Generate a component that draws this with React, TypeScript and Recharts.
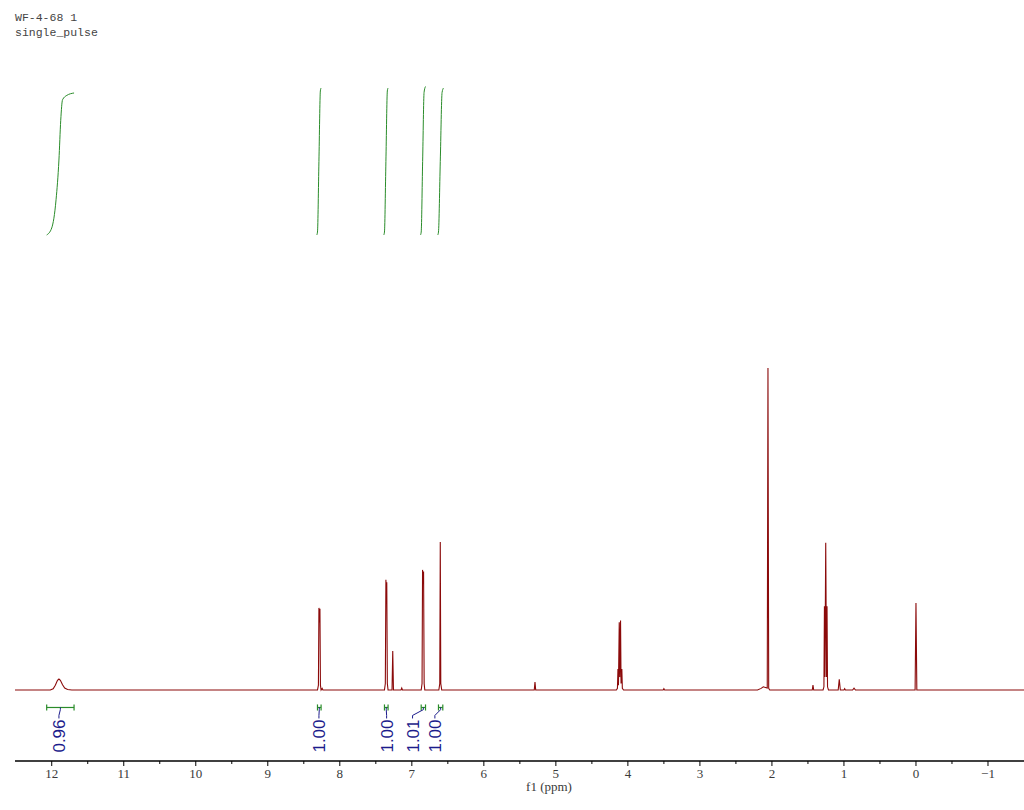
import React from 'react';
import {
  ComposedChart, Line, XAxis, YAxis, ReferenceLine, ReferenceDot,
} from 'recharts';

// spectrum points: [ppm, intensity], tallest peak = 100
const baselineEnds: [number, number][] = [[12.51, 0], [-1.5, 0]];
const peakCOOH: [number, number][] = [
  [12.02, 0], [11.98, 0.4], [11.95, 1.5], [11.92, 3.0], [11.9, 3.4], [11.88, 3.0],
  [11.85, 1.6], [11.82, 0.6], [11.78, 0.15], [11.72, 0],
];
const peak828: [number, number][] = [
  [8.31, 0], [8.297, 1.5], [8.29, 25.5], [8.283, 21], [8.276, 25.2], [8.269, 1.5],
  [8.26, 0], [8.245, 0.5], [8.235, 0],
];
const peak735: [number, number][] = [
  [7.38, 0], [7.368, 2], [7.36, 34.2], [7.354, 31], [7.348, 33.5], [7.34, 2], [7.33, 0],
];
const peak726: [number, number][] = [[7.275, 0], [7.265, 12.1], [7.255, 0], [7.15, 0], [7.14, 0.6], [7.13, 0]];
const peak684: [number, number][] = [
  [6.87, 0], [6.858, 2], [6.851, 37.3], [6.844, 33], [6.837, 36.8], [6.829, 2], [6.82, 0],
];
const peak660: [number, number][] = [[6.625, 0], [6.612, 2], [6.605, 46], [6.598, 2], [6.585, 0]];
const peak529: [number, number][] = [[5.3, 0], [5.29, 2.5], [5.28, 0]];
const peak411: [number, number][] = [
  [4.16, 0], [4.145, 0.5], [4.138, 6.5], [4.131, 1.5], [4.12, 21], [4.113, 4], [4.102, 21.6],
  [4.095, 2], [4.084, 6.5], [4.077, 0.5], [4.06, 0], [3.51, 0], [3.5, 0.4], [3.49, 0],
];
const peak205: [number, number][] = [
  [2.2, 0], [2.15, 0.5], [2.12, 1.0], [2.09, 0.8], [2.065, 0.6], [2.055, 100], [2.045, 0.5], [2.03, 0],
];
const peak126: [number, number][] = [
  [1.44, 0], [1.43, 1.5], [1.42, 0],
  [1.29, 0], [1.278, 1], [1.271, 26], [1.264, 4], [1.253, 45.7], [1.242, 4], [1.235, 26],
  [1.228, 1], [1.215, 0],
  [1.08, 0], [1.065, 3.3], [1.05, 0], [1.0, 0], [0.99, 0.4], [0.98, 0],
  [0.88, 0], [0.86, 0.6], [0.84, 0],
];
const peakTMS: [number, number][] = [[0.012, 0], [0.0, 27], [-0.012, 0]];

// integral curves: [ppm, normalised integral]
const intCOOH: [number, number][] = [
  [12.07, 0], [12.0, 0.048], [11.94, 0.24], [11.9, 0.51], [11.875, 0.78], [11.85, 0.92],
  [11.79, 0.95], [11.69, 0.966],
];
const int828: [number, number][] = [[8.32, 0], [8.31, 0.02], [8.29, 0.5], [8.27, 0.98], [8.26, 1.0]];
const int735: [number, number][] = [[7.39, 0], [7.38, 0.02], [7.36, 0.5], [7.34, 0.98], [7.33, 1.0]];
const int684: [number, number][] = [[6.88, 0], [6.87, 0.02], [6.85, 0.5], [6.83, 0.97], [6.81, 1.01]];
const int660: [number, number][] = [[6.64, 0], [6.63, 0.02], [6.605, 0.5], [6.58, 0.97], [6.56, 1.0]];

// integral regions and labels
const integralFrom = [12.07, 8.31, 7.38, 6.87, 6.63];
const integralTo = [11.69, 8.26, 7.33, 6.81, 6.57];
const integralValues = ['0.96', '1.00', '1.00', '1.01', '1.00'];
const integralLabelAt = [11.9, 8.29, 7.35, 6.99, 6.68];

const majorTicks = [12, 11, 10, 9, 8, 7, 6, 5, 4, 3, 2, 1, 0, -1];
const allTicks = [12, 11.5, 11, 10.5, 10, 9.5, 9, 8.5, 8, 7.5, 7, 6.5, 6, 5.5, 5, 4.5, 4, 3.5, 3, 2.5, 2, 1.5, 1, 0.5, 0, -0.5, -1];

const toRows = (pts: [number, number][], key: string) =>
  pts.map(([ppm, v]) => ({ ppm, [key]: v }));

const spectrum = toRows(
  [...baselineEnds, ...peakCOOH, ...peak828, ...peak735, ...peak726, ...peak684, ...peak660,
    ...peak529, ...peak411, ...peak205, ...peak126, ...peakTMS].sort((a, b) => b[0] - a[0]),
  'y',
);
const integralCurves = [intCOOH, int828, int735, int684, int660].map((c) => toRows(c, 'i'));

const RED = '#8b0a0a';
const GREEN = '#2a8c2a';
const BLUE = '#1c1c8c';

const yBracket = -5.43;
const yBend1 = -6.1;
const yBend2 = -7.9;
const yLabelTop = -8.84;

const Tick = (props: any) => {
  const { x, y, payload } = props;
  const major = majorTicks.includes(payload.value);
  return (
    <g>
      <line x1={x} x2={x} y1={y} y2={y + (major ? 5 : 3)} stroke="#000" strokeWidth={1} />
      {major && (
        <text x={x} y={y + 17} textAnchor="middle" fontFamily="'Liberation Serif', serif"
          fontSize={13} fill="#3a3a3a">
          {payload.value < 0 ? `\u2212${Math.abs(payload.value)}` : payload.value}
        </text>
      )}
    </g>
  );
};

export default function App() {
  return (
    <div style={{ position: 'absolute', left: 0, top: 0, width: 1024, height: 810, background: '#fff' }}>
      <div style={{
        position: 'absolute', left: 15, top: 10, fontFamily: "'Liberation Mono', monospace",
        fontSize: 11.5, lineHeight: '15px', color: '#444', whiteSpace: 'pre',
      }}>
        <div>WF-4-68 1</div>
        <div>single_pulse</div>
      </div>
      <ComposedChart width={1024} height={810} margin={{ top: 46, right: 0, left: 15, bottom: 0 }}>
        <XAxis
          type="number" dataKey="ppm" domain={[-1.5, 12.51]} reversed allowDataOverflow
          ticks={allTicks} interval={0} tick={<Tick />} tickLine={false} tickSize={0} tickMargin={0}
          axisLine={{ stroke: '#000', strokeWidth: 1.3 }} height={49}
          label={{
            content: () => (
              <text x={549} y={791} textAnchor="middle" fontFamily="'Liberation Serif', serif"
                fontSize={13} fill="#3a3a3a">f1 (ppm)</text>
            ),
          }}
        />
        <YAxis yAxisId="spec" domain={[-22.05, 200]} hide allowDataOverflow />
        <YAxis yAxisId="int" domain={[-3.578, 1.2857]} hide allowDataOverflow />
        <Line yAxisId="spec" data={spectrum} dataKey="y" type="linear" dot={false}
          stroke={RED} strokeWidth={1.1} isAnimationActive={false} />
        {integralCurves.map((d, k) => (
          <Line key={`int${k}`} yAxisId="int" data={d} dataKey="i" type="monotone" dot={false}
            stroke={GREEN} strokeWidth={1} isAnimationActive={false} />
        ))}
        {integralFrom.map((from, k) => {
          const to = integralTo[k];
          const mid = (from + to) / 2;
          const lab = integralLabelAt[k];
          return (
            <React.Fragment key={`br${k}`}>
              <ReferenceLine yAxisId="spec" segment={[{ x: from, y: yBracket }, { x: to, y: yBracket }]}
                stroke={GREEN} strokeWidth={1.2} />
              <ReferenceLine yAxisId="spec" segment={[{ x: from, y: yBracket + 0.95 }, { x: from, y: yBracket - 0.95 }]}
                stroke={GREEN} strokeWidth={1.2} />
              <ReferenceLine yAxisId="spec" segment={[{ x: to, y: yBracket + 0.95 }, { x: to, y: yBracket - 0.95 }]}
                stroke={GREEN} strokeWidth={1.2} />
              <ReferenceLine yAxisId="spec" segment={[{ x: mid, y: yBracket }, { x: mid, y: yBend1 }]}
                stroke={BLUE} strokeWidth={1} />
              <ReferenceLine yAxisId="spec" segment={[{ x: mid, y: yBend1 }, { x: lab, y: yBend2 }]}
                stroke={BLUE} strokeWidth={1} />
              <ReferenceLine yAxisId="spec" segment={[{ x: lab, y: yBend2 }, { x: lab, y: yLabelTop }]}
                stroke={BLUE} strokeWidth={1} />
              <ReferenceDot yAxisId="spec" x={lab} y={yLabelTop} r={0}
                shape={(p: any) => (
                  <text x={p.cx} y={p.cy + 1} transform={`rotate(-90 ${p.cx} ${p.cy + 1})`}
                    textAnchor="end" dy="0.36em" fontFamily="'Liberation Sans', Arial, sans-serif"
                    fontSize={17} fill={BLUE}>
                    {integralValues[k]}
                  </text>
                )}
              />
            </React.Fragment>
          );
        })}
      </ComposedChart>
    </div>
  );
}
